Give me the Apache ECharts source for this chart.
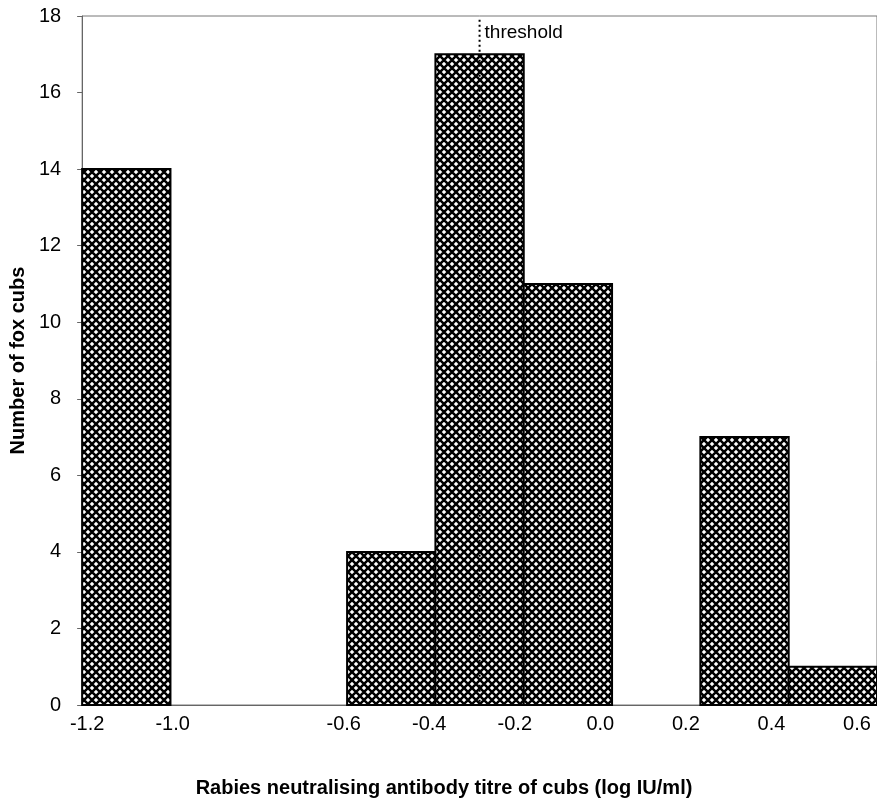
<!DOCTYPE html>
<html>
<head>
<meta charset="utf-8">
<script src="https://cdn.jsdelivr.net/npm/echarts@6/dist/echarts.min.js"></script>
<style>
  html, body { margin: 0; padding: 0; background: #fff; }
  #chart { width: 877px; height: 801px; }
</style>
</head>
<body>
<div id="chart"></div>
<script>
// bin edges of the histogram (log IU/ml) and cub counts per bin
var binEdges = [-1.2, -1.0, -0.8, -0.6, -0.4, -0.2, 0.0, 0.2, 0.4, 0.6]
var counts = [14, 0, 0, 4, 17, 11, 0, 7, 1]
// labels printed under the x axis (-0.8 is missing in the original)
var xTickLabels = [-1.2, -1.0, -0.6, -0.4, -0.2, 0.0, 0.2, 0.4, 0.6]
var yTicks = [0, 2, 4, 6, 8, 10, 12, 14, 16, 18]
// threshold titre
var threshold = -0.3

// cross hatch fill
function makeHatch () {
  var s = 8
  var c = document.createElement('canvas')
  c.width = s
  c.height = s
  var ctx = c.getContext('2d')
  ctx.fillStyle = '#fff'
  ctx.fillRect(0, 0, s, s)
  ctx.strokeStyle = '#000'
  ctx.lineWidth = 2.5
  ctx.beginPath()
  ctx.moveTo(-1, -1); ctx.lineTo(s + 1, s + 1)
  ctx.moveTo(s + 1, -1); ctx.lineTo(-1, s + 1)
  ctx.stroke()
  return c
}
var hatch = makeHatch()

var bars = counts.map(function (v, i) {
  return [binEdges[i], binEdges[i + 1], v]
})

var font = 'Liberation Sans'
var chart = echarts.init(document.getElementById('chart'))
chart.setOption({
  animation: false,
  grid: {
    left: 81,
    top: 16,
    width: 801,
    height: 689,
    show: true,
    borderColor: '#777',
    borderWidth: 1
  },
  title: {
    text: 'Rabies neutralising antibody titre of cubs (log IU/ml)',
    left: 439,
    top: 773,
    textAlign: 'center',
    textStyle: { fontFamily: font, fontSize: 20, fontWeight: 'bold', color: '#000' }
  },
  xAxis: [
    {
      // axis used to place the bars
      type: 'value',
      min: binEdges[0],
      max: binEdges[binEdges.length - 1],
      position: 'bottom',
      axisLine: { show: true, onZero: false, lineStyle: { color: '#666', width: 1 } },
      axisTick: { show: false },
      axisLabel: { show: false },
      splitLine: { show: false }
    },
    {
      // label axis (printed labels drift slightly from the bin edges)
      type: 'value',
      min: -1.2116,
      max: 0.6469,
      position: 'bottom',
      axisLine: { show: false },
      axisTick: { show: false },
      splitLine: { show: false },
      axisLabel: {
        customValues: xTickLabels,
        formatter: function (v) { return v.toFixed(1) },
        fontFamily: font,
        fontSize: 20,
        color: '#000',
        margin: 9,
        showMinLabel: true,
        showMaxLabel: true
      }
    }
  ],
  yAxis: {
    type: 'value',
    min: yTicks[0],
    max: yTicks[yTicks.length - 1],
    interval: 2,
    name: 'Number of fox cubs',
    nameLocation: 'middle',
    nameGap: 54,
    nameTextStyle: { fontFamily: font, fontSize: 20, fontWeight: 'bold', color: '#000' },
    axisLine: { show: true, onZero: false, lineStyle: { color: '#666', width: 1 } },
    axisTick: { show: true, length: 5, lineStyle: { color: '#666' } },
    axisLabel: { fontFamily: font, fontSize: 20, color: '#000', margin: 21 },
    splitLine: { show: false }
  },
  series: [
    {
      type: 'custom',
      xAxisIndex: 0,
      encode: { x: [0, 1], y: 2 },
      data: bars,
      renderItem: function (params, api) {
        var h = api.value(2)
        if (!h) return null
        var p0 = api.coord([api.value(0), h])
        var p1 = api.coord([api.value(1), 0])
        return {
          type: 'rect',
          shape: { x: p0[0], y: p0[1], width: p1[0] - p0[0], height: p1[1] - p0[1] },
          style: {
            fill: { image: hatch, repeat: 'repeat' },
            stroke: '#000',
            lineWidth: 2
          }
        }
      }
    },
    {
      type: 'line',
      xAxisIndex: 0,
      data: [
        { value: [threshold, 17.9], label: { show: true, position: 'right', formatter: 'threshold', offset: [0, 13] } },
        [threshold, 0]
      ],
      showSymbol: true,
      symbolSize: 0,
      lineStyle: { color: '#000', width: 2, type: [2, 3] },
      label: { fontFamily: font, fontSize: 19, color: '#000' },
      z: 5
    }
  ]
})
</script>
</body>
</html>
